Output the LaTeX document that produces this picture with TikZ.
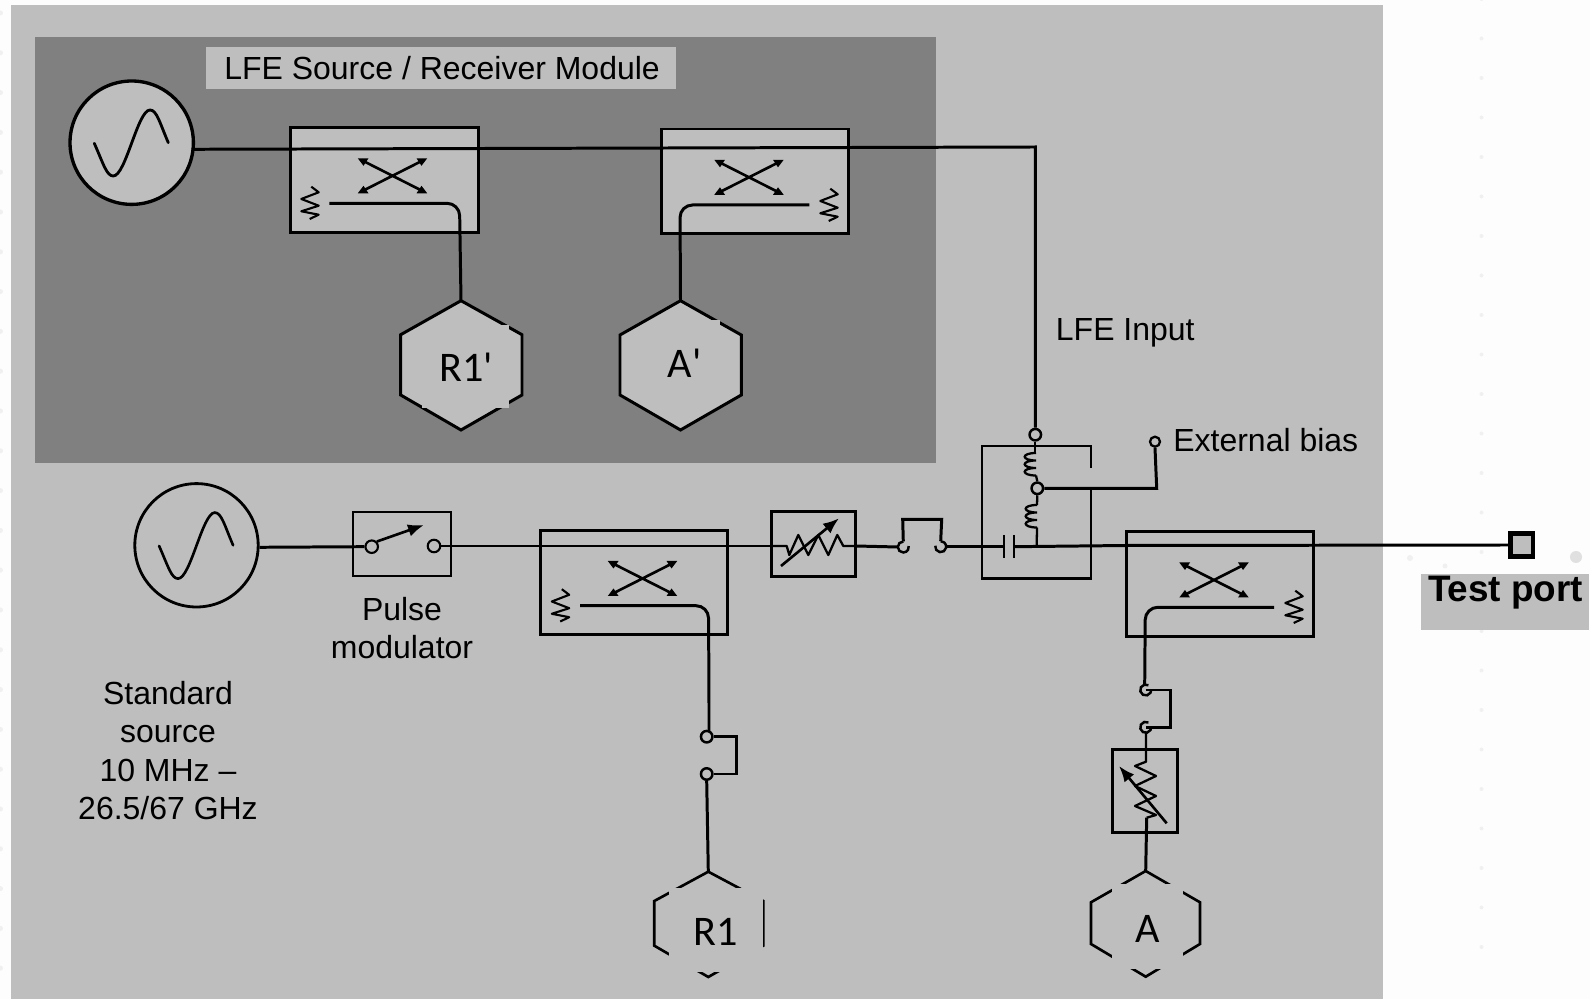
\documentclass[tikz,border=0pt]{standalone}
\usepackage{fontspec}
\setmainfont{Liberation Sans}
\newfontfamily\calib{Carlito}
\usetikzlibrary{arrows.meta}
\definecolor{panel}{HTML}{BEBEBE}
\definecolor{darkpanel}{HTML}{808080}
\definecolor{page}{HTML}{FDFDFD}
\tikzset{
  wire/.style={line width=1.7pt,black},
  thinwire/.style={line width=1.3pt,black},
  blockbox/.style={draw=black,line width=1.7pt,fill=panel,rectangle,inner sep=0pt},
  source/.style={draw=black,circle,fill=panel,inner sep=0pt,minimum size=2.468cm},
  term/.style={draw=black,circle,line width=1.4pt,fill=panel,inner sep=0pt,minimum size=0.23cm},
  hexa/.style={draw=black,line width=1.7pt,fill=panel,line join=miter},
  hexb/.style={draw=black,line width=1.5pt,line join=miter},
  lab/.style={font=\fontsize{18.2}{21.8}\selectfont,inner sep=0pt,text=black},
  hexlab/.style={font=\calib\fontsize{24}{28}\selectfont,inner sep=0pt,text=black},
  cover/.style={fill=panel,draw=none,rectangle,inner sep=0pt},
  varrow/.style={line width=1.5pt,-{Latex[length=0.32cm,width=0.25cm]}},
}
\newcommand{\sinewave}[3][1.6pt]{\begin{scope}[shift={(#2,#3)}]
  \draw[line width=#1,line cap=round] (-37.4,0.6) .. controls (-28,22) and (-25,33.3) .. (-18.4,33.3) .. controls (-6,33.3) and (6,-32.7) .. (18.3,-32.7) .. controls (25,-32.7) and (28,-20) .. (36.6,0);
\end{scope}}
\newcommand{\xcross}[2]{\begin{scope}[shift={(#1,#2)}]
  \draw[line width=1.5pt] (-31,-15.7)--(31,15.7) (-31,15.7)--(31,-15.7);
  \fill (-34.7,-17.5)--(-24,-17.5)--(-29,-10)--cycle;
  \fill (34.7,-17.5)--(24,-17.5)--(29,-10)--cycle;
  \fill (-34.7,17.5)--(-24,17.5)--(-29,10)--cycle;
  \fill (34.7,17.5)--(24,17.5)--(29,10)--cycle;
\end{scope}}
\newcommand{\zres}[2]{\begin{scope}[shift={(#1,#2)}]
  \draw[line width=1.2pt,line join=round] (1.3,-16.3)--(8.7,-10.7)--(-8.7,-4)--(8.7,2.7)--(-8.7,8.3)--(8.7,11.7)--(-.3,16);
\end{scope}}
\newcommand{\coil}[2]{\begin{scope}[shift={(#1,#2)}]
  \draw[line width=1.3pt] (0,0) .. controls (-15,0) and (-15,7.5) .. (0,7.5) .. controls (-15,7.5) and (-15,15) .. (0,15) .. controls (-15,15) and (-15,22.5) .. (0,22.5);
\end{scope}}
\begin{document}
\begin{tikzpicture}[x=0.02cm,y=-0.02cm]
\useasboundingbox (0,0) rectangle (1590,999);
\fill[page] (0,0) rectangle (1590,999);
% faint page dots
\foreach \k in {0,...,24}{
  \fill[black!6] (1481.5,-1+39.5*\k) circle[radius=0.04cm];
  \fill[black!6] (0.5,13+39.8*\k) circle[radius=0.05cm];
}
\fill[black!6] (1410,558) circle[radius=0.06cm];
\fill[black!6] (1445,566) circle[radius=0.05cm];
\fill[black!12] (1576,557) circle[radius=0.12cm];
% panels
\fill[panel] (11,5) rectangle (1383,999);
\fill[darkpanel] (35,37) rectangle (936,463);

% title
\node[cover,minimum width=9.41cm,minimum height=0.846cm] (titlebox) at (441.2,67.8) {};
\node[lab,anchor=base west] (title) at (224,79.3) {LFE Source / Receiver Module};

% LFE sources and couplers
\node[source,line width=1.9pt] (src1) at (131.7,142.7) {};
\sinewave{131.7}{142.7}
\node[blockbox,minimum width=3.766cm,minimum height=2.106cm] (c1) at (384.2,179.7) {};
\node[blockbox,minimum width=3.746cm,minimum height=2.1cm] (c2) at (754.7,181.5) {};
\xcross{392.5}{175.8}
\xcross{749}{177.3}
\zres{310}{203}
\zres{829}{205}

% Hexagons R1' and A'
\draw[hexa] (461,300.7) coordinate (r1ptop) -- (522,334.7) -- (522,395) -- (461,430) -- (400.7,395) -- (400.7,334.7) -- cycle;
\draw[hexa] (680.5,300.7) coordinate (aptop) -- (741.3,335) -- (741.3,395) -- (680.5,430) -- (620,395) -- (620,335) -- cycle;
\fill[panel] (421.7,325) rectangle (509,407.7);
\fill[panel] (652,320) rectangle (720,380);
\node[hexlab,anchor=base] (r1p) at (466,381.3) {R1'};
\node[hexlab,anchor=base] (ap) at (684.5,378) {A'};

% coupled lines
\draw[wire,rounded corners=0.25cm] (329.3,203.3) -- (459.5,203.3) -- (r1ptop);
\draw[wire,rounded corners=0.25cm] (809.3,205) -- (680,205) -- (aptop);

% LFE line
\node[term] (lfetop) at (1035.3,434.7) {};
\coordinate (s1out) at (191.7,149.3);
\coordinate (lfecorner) at (1035.3,147);
\draw[wire] (s1out) -- (lfecorner) -- (lfetop.north);
\node[lab,anchor=base west] (lfeinput) at (1055.6,340.7) {LFE Input};

% Standard source and pulse modulator
\node[source,line width=1.6pt] (src2) at (196.5,545.3) {};
\sinewave[1.5pt]{196.5}{545.3}
\node[draw=black,line width=1.2pt,fill=panel,rectangle,inner sep=0pt,minimum width=1.96cm,minimum height=1.286cm] (pm) at (401.7,543.8) {};
\node[term,line width=1.2pt,minimum size=0.25cm] (sw1) at (371.7,546.7) {};
\node[term,line width=1.2pt,minimum size=0.25cm] (sw2) at (434,546) {};
\draw[wire] (src2.east) ++(0,2) -- (sw1.west);
\draw[varrow] (sw1.north east) -- (424,525);
\node[lab,align=center,anchor=center] (pulselab) at (402,627.8) {Pulse\\modulator};
\node[lab,align=center,anchor=center] (stdlab) at (168,750.7) {Standard\\source\\10 MHz --\\26.5/67 GHz};

% coupler 3
\node[blockbox,minimum width=3.74cm,minimum height=2.086cm] (c3) at (634.2,582.2) {};
\xcross{642.5}{578.5}
\zres{560.5}{605.5}
% attenuator 1
\node[blockbox,minimum width=1.68cm,minimum height=1.3cm] (att1) at (813.7,544.2) {};
% main line 1
\draw[wire] (sw2.east) -- (771.7,546);
\draw[line width=1.3pt,line join=round] (771.7,546)--(786.7,546)--(789.3,555)--(798.3,535)--(808.3,555)--(818.3,535)--(828.3,555)--(837.3,535)--(843.3,546)--(855.7,546);
\draw[varrow] (781,566) -- (839,518.3);
% coupler 3 out + loop
\node[term] (l1) at (706.7,736.7) {};
\node[term] (l2) at (706.7,774) {};
\draw[wire,rounded corners=0.25cm] (580,605.7) -- (708.5,605.7) -- (709,700) -- (709,731.5);
\draw[wire] (l1.east) -- (736.7,736.7) -- (736.7,774) -- (l2.east);
% R1
\draw[hexb] (708.3,871.7) coordinate (r1top) -- (763.3,901) -- (763.3,945.7) -- (708.3,977) -- (654.3,945.7) -- (654.3,901) -- cycle;
\fill[panel] (669,888) rectangle (763,971.7);
\node[hexlab,anchor=base] (r1) at (716,946) {R1};
\draw[wire] (l2.south) -- (r1top);

% delay loop after attenuator
\coordinate (d1) at (903.3,547);
\coordinate (d2) at (940.7,546.7);
\draw[wire] (855.7,546) -- (897.8,547);
\draw[line width=1.4pt] ([shift={(90:0.11cm)}]d1) arc[start angle=90,end angle=370,radius=0.11cm];
\draw[line width=1.4pt] ([shift={(170:0.11cm)}]d2) arc[start angle=-190,end angle=90,radius=0.11cm];
\draw[wire] ([shift={(90:0.11cm)}]d1) -- (902.7,519.3) -- (941.7,519.3) -- ([shift={(90:0.11cm)}]d2);

% bias tee
\draw[line width=1.6pt] (1091,467.7) -- (1091,446) -- (982,446) -- (982,578.3) -- (1091,578.3) -- (1091,489);
\node[term] (btmid) at (1037.3,488.3) {};
\node[term,minimum size=0.2cm,line width=1.3pt] (extb) at (1155,441.7) {};
\coordinate (c1top) at (1035.3,453);
\draw[thinwire] (lfetop.south) -- (c1top);
\coil{1036}{453}
\draw[thinwire] (1036,475.5) -- (btmid.north);
\draw[thinwire] (btmid.south) -- (1037,505);
\coil{1037}{505}
\draw[thinwire] (1037,527.5) -- (1036.7,546.5);
\draw[wire] (btmid.east) -- (1156.7,488.3) -- (extb.south);
\node[lab,anchor=base west] (extlab) at (1173,451.5) {External bias};
\draw[line width=1.3pt] (1004,535) -- (1004,557.7) (1014.3,535) -- (1014.3,557.7);

% coupler 4
\node[blockbox,minimum width=3.746cm,minimum height=2.1cm] (c4) at (1219.7,584.2) {};
\xcross{1214}{580}
\zres{1294}{607}

% test port
\node[draw=black,line width=2.6pt,fill=panel,rectangle,inner sep=0pt,minimum size=0.45cm] (tp) at (1521.7,545) {};
\draw[wire] (d2) ++(6,0) -- (1004,546.7);
\draw[wire] (1014.3,546.7) -- (1126,545.5) -- (tp.west);
\node[cover,minimum width=3.36cm,minimum height=1.106cm] (tpbox) at (1505,602) {};
\node[lab,anchor=base west,font=\bfseries\fontsize{21}{24}\selectfont] (tplab) at (1427.7,601.5) {Test port};

% coupler 4 out + loop + attenuator 2 + A
\coordinate (e1) at (1145.7,690);
\coordinate (e2) at (1145.7,727.3);
\draw[wire,rounded corners=0.25cm] (1274,607.3) -- (1145.3,607.3) -- (1144.7,684.5);
\draw[line width=1.4pt] ([shift={(60:0.11cm)}]e1) arc[start angle=60,end angle=360,radius=0.11cm];
\draw[line width=1.4pt] ([shift={(60:0.11cm)}]e2) arc[start angle=60,end angle=360,radius=0.11cm];
\draw[wire] (e1) -- (1170.7,690) -- (1170.7,727.3) -- (e2);
\node[draw=black,line width=1.6pt,rectangle,inner sep=0pt,minimum width=1.3cm,minimum height=1.66cm] (att2) at (1144.8,790.8) {};
\draw[hexb] (1145.7,871) coordinate (atop) -- (1200,902.3) -- (1200,944) -- (1145.7,976.7) -- (1091,944) -- (1091,902.3) -- cycle;
\fill[panel] (1111.7,884.3) rectangle (1183.3,969);
\node[hexlab,anchor=base] (a) at (1147.5,942.7) {A};
\draw[line width=1.3pt,line join=round] (e2) ++(0.3,5.5) -- (1146,761.7)--(1135,766)--(1156,776)--(1135,786)--(1156,796)--(1135,806)--(1156,815)--(1146.7,817.7);
\draw[wire] (1146.7,817.7) -- (atop);
\draw[varrow] (1166.7,823.3) -- (1119,766);
\end{tikzpicture}
\end{document}
